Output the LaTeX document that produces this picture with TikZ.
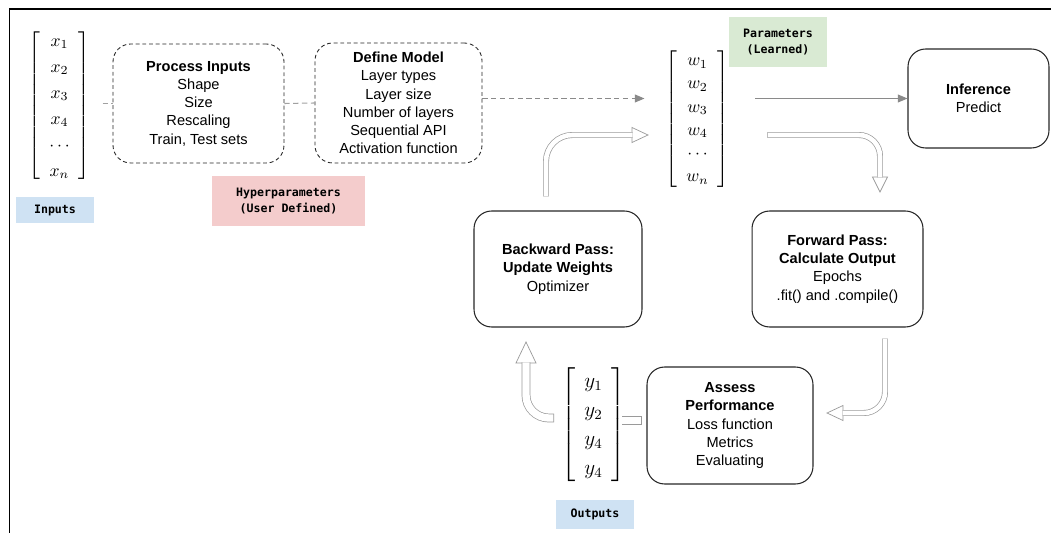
\documentclass[tikz,border=0pt]{standalone}
\usepackage{amsmath}
\usepackage[no-math]{fontspec}
\setmainfont{Liberation Sans}
\setmonofont{DejaVu Sans Mono}
\usetikzlibrary{calc, arrows.meta}

\definecolor{inblue}{HTML}{CFE2F3}
\definecolor{hypred}{HTML}{F4CCCC}
\definecolor{parmgreen}{HTML}{D9EAD3}
\definecolor{arrgray}{HTML}{9A9A9A}
\definecolor{linegray}{HTML}{8A8A8A}

\tikzset{
  box/.style={draw=black!85, line width=0.6pt, rounded corners=10pt, align=center, inner sep=0pt, font=\fontsize{8.3}{10.4}\selectfont},
  dashbox/.style={box, line width=0.5pt, dash pattern=on 2.2pt off 1.6pt},
  tag/.style={inner sep=0pt, align=center, font=\ttfamily\bfseries\fontsize{6.6}{9}\selectfont},
  vec/.style={inner sep=0pt},
  flow/.style={draw=linegray, line width=0.6pt, -{Triangle[length=5.5pt,width=4.5pt]}},
  dashflow/.style={draw=linegray!80, line width=0.6pt, dash pattern=on 3pt off 2pt},
  shaft/.style={draw=arrgray, line width=3.4pt, rounded corners=12pt, postaction={draw=white, line width=2.6pt, shorten <=0.4pt}},
  wideshaft/.style={draw=arrgray, line width=5pt, rounded corners=13pt, postaction={draw=white, line width=4.2pt, shorten <=0.4pt}},
  hollowtip/.style={draw=arrgray, fill=white, line width=0.4pt, line join=miter}
}

\begin{document}
\begin{tikzpicture}[x={(0.02cm,0)}, y={(0,-0.02cm)}]
  % pixel grid of the screenshot, y grows downwards
  \useasboundingbox (0,0) rectangle (1051,533);
  \draw[line width=1.1pt] (9.5,560) -- (9.5,9) -- (1080,9);

  \node[vec] (xvec) at (59.5,106) {\fontsize{10}{12}\selectfont$\renewcommand{\arraystretch}{1.23}\left[\begin{array}{c}x_1\\x_2\\x_3\\x_4\\\cdots\\x_n\end{array}\right]$};
  \node[vec] (wvec) at (697.5,119) {\fontsize{10}{12}\selectfont$\renewcommand{\arraystretch}{1.1}\left[\begin{array}{c}w_1\\w_2\\w_3\\w_4\\\cdots\\w_n\end{array}\right]$};
  \node[vec] (yvec) at (593.5,425) {\fontsize{12}{14.4}\selectfont$\renewcommand{\arraystretch}{1.15}\left[\begin{array}{c}y_1\\y_2\\y_4\\y_4\end{array}\right]$};

  \node[dashbox, minimum width=3.42cm, minimum height=2.38cm] (proc) at (198.5,103.5) {\textbf{Process Inputs}\\Shape\\Size\\Rescaling\\Train, Test sets};
  \node[dashbox, minimum width=3.34cm, minimum height=2.4cm] (def) at (398.5,103) {\textbf{Define Model}\\Layer types\\Layer size\\Number of layers\\Sequential API\\Activation function};
  \node[box, minimum width=2.82cm, minimum height=1.98cm] (inf) at (978.5,98.5) {\textbf{Inference}\\Predict};
  \node[box, minimum width=3.42cm, minimum height=2.32cm] (fwd) at (837.5,269) {\textbf{Forward Pass:}\\\textbf{Calculate Output}\\Epochs\\.fit() and .compile()};
  \node[box, minimum width=3.36cm, minimum height=2.32cm] (bwd) at (558,269) {\textbf{Backward Pass:}\\\textbf{Update Weights}\\Optimizer};
  \node[box, minimum width=3.32cm, minimum height=2.34cm] (assess) at (730,425.5) {\textbf{Assess}\\\textbf{Performance}\\Loss function\\Metrics\\Evaluating};

  \node[tag, fill=inblue, minimum width=1.56cm, minimum height=0.52cm] (inlab) at (55,210) {Inputs};
  \node[tag, fill=hypred, minimum width=3.06cm, minimum height=1cm] (hyplab) at (288.5,201) {Hyperparameters\\(User Defined)};
  \node[tag, fill=parmgreen, minimum width=1.96cm, minimum height=1cm] (parlab) at (778,42) {Parameters\\(Learned)};
  \node[tag, fill=inblue, minimum width=1.56cm, minimum height=0.58cm] (outlab) at (595,514.5) {Outputs};

  \draw[dashflow, shorten <=6.8pt] (xvec.east |- proc.west) -- (proc.west);
  \draw[dashflow] (proc.east) -- (def.west);
  \draw[flow, dash pattern=on 3pt off 2pt, shorten >=12pt] (def.east |- inf.west) -- (wvec.west |- inf.west);
  \draw[flow, shorten <=14.8pt] (wvec.east |- inf.west) -- (inf.west);

  \coordinate (ahead) at (632,135);
  \coordinate (bhead) at (880,177);
  \coordinate (chead) at (843,413);
  \coordinate (dhead) at (526,363);
  \draw[hollowtip] (ahead) ++(0,-7.5) -- ++(16,7.5) -- ++(-16,7.5) -- cycle;
  \draw[hollowtip] (bhead) ++(-7.5,0) -- ++(7.5,15) -- ++(7.5,-15) -- cycle;
  \draw[hollowtip] (chead) ++(0,-7.5) -- ++(-16,7.5) -- ++(16,7.5) -- cycle;
  \draw[hollowtip] (dhead) ++(-10,0) -- ++(10,-21) -- ++(10,21) -- cycle;
  \draw[shaft, rounded corners=15pt] ($(bwd.north)+(-12,-14)$) |- ($(ahead)+(0.5,0)$);
  \draw[shaft] ($(wvec.east)+(38,16)$) -| ($(bhead)+(0,0.5)$);
  \draw[shaft] ($(fwd.south)+(47.5,11)$) |- ($(chead)+(-0.5,0)$);
  \draw[wideshaft] ($(yvec.west)+(-7,-7)$) -| ($(dhead)+(0,-0.5)$);
  \draw[arrgray, line width=0.4pt] ($(assess.west)+(-24,-9.5)$) -- ++(19,0) -- ++(0,8) -- ++(-19,0);
\end{tikzpicture}
\end{document}
